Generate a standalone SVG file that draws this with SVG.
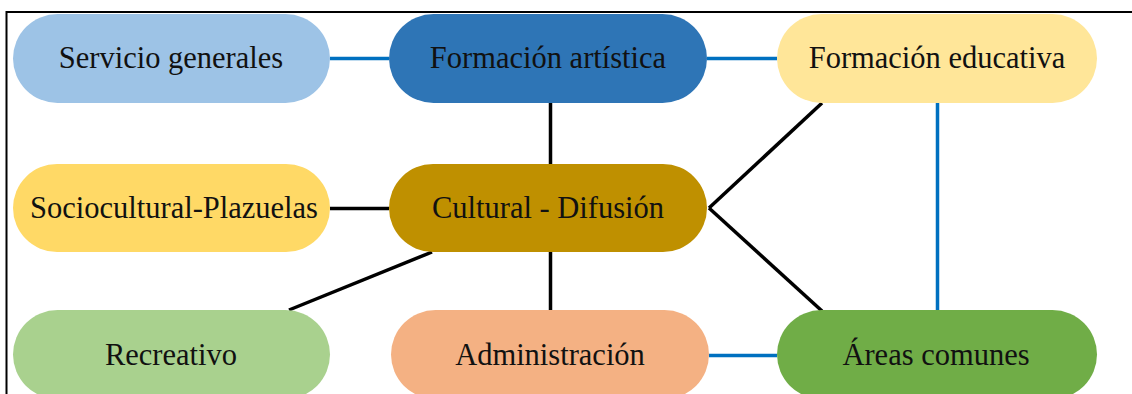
<svg xmlns="http://www.w3.org/2000/svg" width="1132" height="394" viewBox="0 0 1132 394">
<style>
.n text{font-family:"Liberation Serif","Times New Roman",serif;font-size:30.5px;fill:#111;text-anchor:middle}
.k{stroke:#000;stroke-width:3.5;fill:none}
.b{stroke:#0070C0;stroke-width:3.5;fill:none}
</style>
<rect width="1132" height="394" fill="#fff"/>
<path d="M6.5 394V12H1132" fill="none" stroke="#000" stroke-width="2"/>
<g id="connectors">
<line class="b" x1="330" y1="58.5" x2="389" y2="58.5"/>
<line class="b" x1="707" y1="58.5" x2="777" y2="58.5"/>
<line class="k" x1="550.5" y1="103" x2="550.5" y2="164"/>
<line class="k" x1="330" y1="208.5" x2="389" y2="208.5"/>
<line class="k" x1="822" y1="103" x2="709" y2="208"/>
<line class="k" x1="709" y1="208" x2="822" y2="311"/>
<line class="b" x1="937.5" y1="103" x2="937.5" y2="311"/>
<line class="k" x1="432" y1="252" x2="289" y2="310"/>
<line class="k" x1="550.5" y1="252" x2="550.5" y2="310"/>
<line class="b" x1="709" y1="355.5" x2="777" y2="355.5"/>
</g>
<g id="servicio" class="n"><rect x="13" y="14" width="317" height="89" rx="44.5" fill="#9DC3E6"/><text x="171" y="68">Servicio generales</text></g>
<g id="artistica" class="n"><rect x="389" y="14" width="318" height="89" rx="44.5" fill="#2E75B6"/><text x="548" y="68">Formación artística</text></g>
<g id="educativa" class="n"><rect x="777" y="14" width="320" height="89" rx="44.5" fill="#FFE699"/><text x="937" y="68">Formación educativa</text></g>
<g id="sociocultural" class="n"><rect x="13" y="164" width="317" height="88" rx="44" fill="#FFD966"/><text x="174" y="218">Sociocultural-Plazuelas</text></g>
<g id="cultural" class="n"><rect x="389" y="164" width="318" height="88" rx="44" fill="#BF9000"/><text x="548" y="218">Cultural - Difusión</text></g>
<g id="recreativo" class="n"><rect x="13" y="310" width="317" height="89" rx="44.5" fill="#A9D18E"/><text x="171" y="364.5">Recreativo</text></g>
<g id="administracion" class="n"><rect x="391" y="310" width="318" height="89" rx="44.5" fill="#F4B183"/><text x="550" y="364.5">Administración</text></g>
<g id="areas" class="n"><rect x="777" y="310" width="320" height="89" rx="44.5" fill="#70AD47"/><text x="936" y="364.5">Áreas comunes</text></g>
</svg>
